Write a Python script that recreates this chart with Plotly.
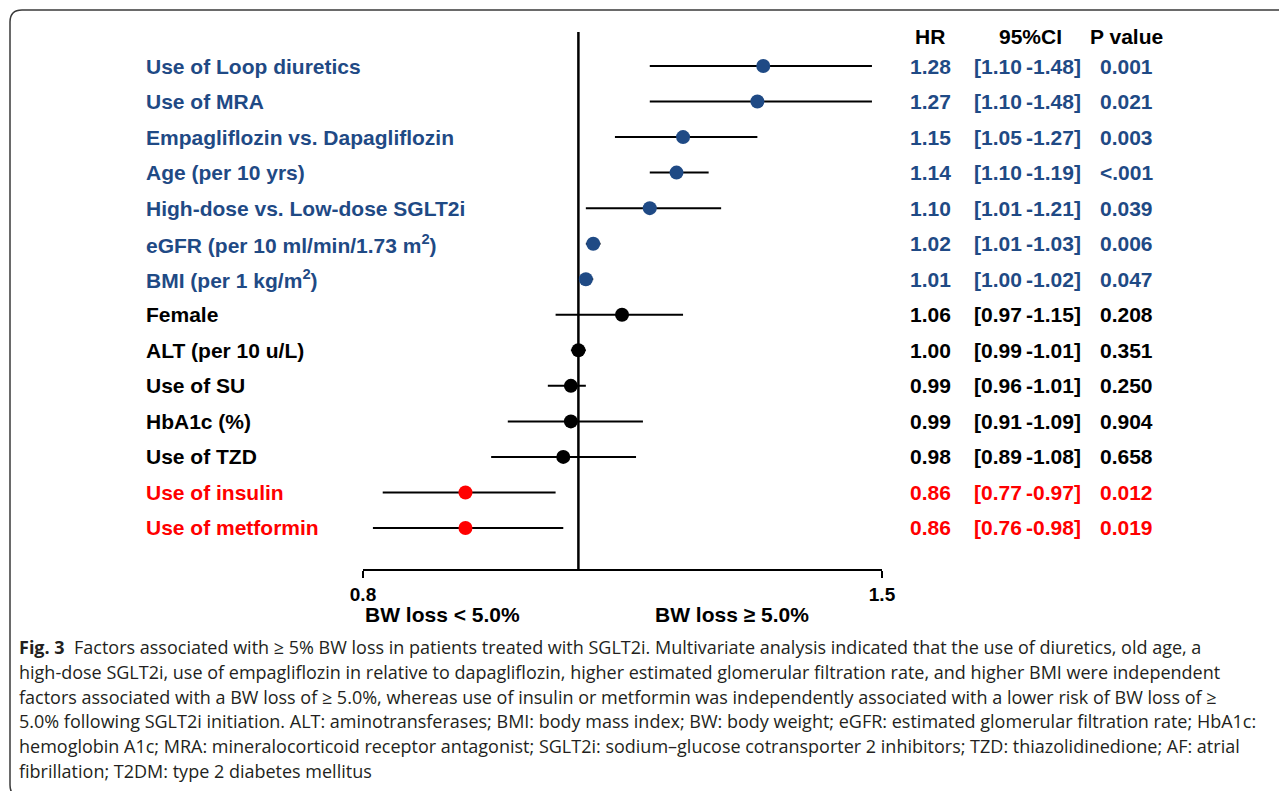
import math
import plotly.graph_objects as go

# ---------------- data ----------------
labels = ["Use of Loop diuretics", "Use of MRA", "Empagliflozin vs. Dapagliflozin",
          "Age (per 10 yrs)", "High-dose vs. Low-dose SGLT2i",
          "eGFR (per 10 ml/min/1.73 m<sup>2</sup>)", "BMI (per 1 kg/m<sup>2</sup>)",
          "Female", "ALT (per 10 u/L)", "Use of SU", "HbA1c (%)", "Use of TZD",
          "Use of insulin", "Use of metformin"]
hr = [1.28, 1.27, 1.15, 1.14, 1.10, 1.02, 1.01, 1.06, 1.00, 0.99, 0.99, 0.98, 0.86, 0.86]
ci_lo = [1.10, 1.10, 1.05, 1.10, 1.01, 1.01, 1.00, 0.97, 0.99, 0.96, 0.91, 0.89, 0.77, 0.76]
ci_hi = [1.48, 1.48, 1.27, 1.19, 1.21, 1.03, 1.02, 1.15, 1.01, 1.01, 1.09, 1.08, 0.97, 0.98]
pvals = ["0.001", "0.021", "0.003", "<.001", "0.039", "0.006", "0.047",
         "0.208", "0.351", "0.250", "0.904", "0.658", "0.012", "0.019"]
groups = ["pos"] * 7 + ["ns"] * 5 + ["neg"] * 2
tick_vals = [0.75, 1.5]
tick_text = ["0.8", "1.5"]
headers = ["HR", "95%CI", "P value"]
side_labels = ["BW loss < 5.0%", "BW loss \u2265 5.0%"]
caption_lines = [
    "<b>Fig. 3</b>  Factors associated with \u2265 5% BW loss in patients treated with SGLT2i. Multivariate analysis indicated that the use of diuretics, old age, a",
    "high-dose SGLT2i, use of empagliflozin in relative to dapagliflozin, higher estimated glomerular filtration rate, and higher BMI were independent",
    "factors associated with a BW loss of \u2265 5.0%, whereas use of insulin or metformin was independently associated with a lower risk of BW loss of \u2265",
    "5.0% following SGLT2i initiation. ALT: aminotransferases; BMI: body mass index; BW: body weight; eGFR: estimated glomerular filtration rate; HbA1c:",
    "hemoglobin A1c; MRA: mineralocorticoid receptor antagonist; SGLT2i: sodium\u2013glucose cotransporter 2 inhibitors; TZD: thiazolidinedione; AF: atrial",
    "fibrillation; T2DM: type 2 diabetes mellitus",
]

# ---------------- style ----------------
OFF = 8                      # page body margin
W, H = 1287 - 2 * OFF, 799 - 2 * OFF
BLUE = "#1F4A85"
RED = "#FF0000"
BLACK = "#000000"
gcolor = {"pos": BLUE, "ns": BLACK, "neg": RED}
FONT = "Liberation Sans, Arial, sans-serif"
CAP_FONT = "Open Sans, Noto Sans, sans-serif"


def px(x):
    return (x - OFF) / W


def py(y):
    return 1 - (y - OFF) / H


n = len(labels)
rows = list(range(n))
colors = [gcolor[g] for g in groups]
y_top = -0.957
y_bot = (n - 1) + 1.154

fig = go.Figure()

# reference line at HR = 1
fig.add_trace(go.Scatter(x=[1, 1], y=[y_top, y_bot], mode="lines",
                         line=dict(color="black", width=2.5),
                         hoverinfo="skip", showlegend=False))

# CIs + points
fig.add_trace(go.Scatter(
    x=hr, y=rows, mode="markers",
    marker=dict(size=14, color=colors),
    error_x=dict(type="data", symmetric=False,
                 array=[h - m for h, m in zip(ci_hi, hr)],
                 arrayminus=[m - l for m, l in zip(hr, ci_lo)],
                 color="black", thickness=2, width=0),
    showlegend=False, cliponaxis=False))

ann = []
for i in rows:
    c = colors[i]
    f = dict(family=FONT, size=21, color=c)
    ann.append(dict(x=px(144), y=i, xref="paper", yref="y", text="<b>%s</b>" % labels[i],
                    xanchor="left", yanchor="middle", showarrow=False, font=f))
    ann.append(dict(x=px(930), y=i, xref="paper", yref="y", text="<b>%.2f</b>" % hr[i],
                    xanchor="center", yanchor="middle", showarrow=False, font=f))
    ann.append(dict(x=px(1027), y=i, xref="paper", yref="y",
                    text="<b>[%.2f\u2009-%.2f]</b>" % (ci_lo[i], ci_hi[i]),
                    xanchor="center", yanchor="middle", showarrow=False, font=f))
    ann.append(dict(x=px(1126), y=i, xref="paper", yref="y", text="<b>%s</b>" % pvals[i],
                    xanchor="center", yanchor="middle", showarrow=False, font=f))

for hx, htxt in zip([930, 1030, 1126], headers):
    ann.append(dict(x=px(hx), y=-0.82, xref="paper", yref="y", text="<b>%s</b>" % htxt,
                    xanchor="center", yanchor="middle", showarrow=False,
                    font=dict(family=FONT, size=21, color="black")))

for sx, stxt in zip([442, 732], side_labels):
    ann.append(dict(x=px(sx), y=py(614), xref="paper", yref="paper", text="<b>%s</b>" % stxt,
                    xanchor="center", yanchor="middle", showarrow=False,
                    font=dict(family=FONT, size=21, color="black")))

cap_y = [647, 672, 697, 721, 746, 771]
for ly, ltxt in zip(cap_y, caption_lines):
    ann.append(dict(x=px(17), y=py(ly), xref="paper", yref="paper", text=ltxt,
                    xanchor="left", yanchor="middle", showarrow=False,
                    font=dict(family=CAP_FONT, size=18, color="#231F20")))

# rounded frame
r = 12
path = ("M %f,%f L %f,%f Q %f,%f %f,%f L %f,%f Q %f,%f %f,%f L %f,%f" % (
    px(1300), py(10), px(10 + r), py(10), px(10), py(10), px(10), py(10 + r),
    px(10), py(797 - r), px(10), py(797), px(10 + r), py(797), px(1300), py(797)))

fig.update_layout(
    width=W, height=H,
    margin=dict(l=0, r=0, t=0, b=0, autoexpand=False),
    paper_bgcolor="white", plot_bgcolor="white",
    showlegend=False,
    annotations=ann,
    shapes=[dict(type="path", path=path, xref="paper", yref="paper",
                 line=dict(color="#3a3a3a", width=1.5), fillcolor="rgba(0,0,0,0)")],
    xaxis=dict(type="log", domain=[px(363), px(882)],
               range=[math.log10(tick_vals[0]), math.log10(tick_vals[1])],
               showline=True, linecolor="black", linewidth=2,
               ticks="outside", ticklen=7, tickwidth=2, tickcolor="black",
               tickvals=tick_vals, ticktext=["<b>%s</b>" % t for t in tick_text],
               tickfont=dict(family=FONT, size=19, color="black"),
               ticklabelstandoff=0, automargin=False,
               showgrid=False, zeroline=False),
    yaxis=dict(domain=[py(569), py(32)], range=[y_bot, y_top], visible=False,
               showgrid=False, zeroline=False, automargin=False),
)

fig.write_html("out.html")
